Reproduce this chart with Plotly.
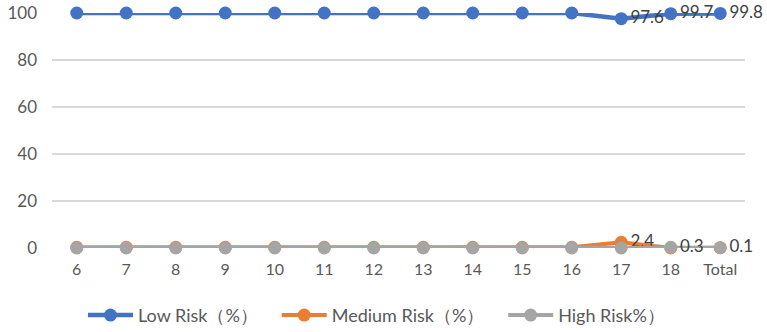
import plotly.graph_objects as go

categories = ["6", "7", "8", "9", "10", "11", "12", "13", "14", "15", "16", "17", "18", "Total"]
low_risk = [100, 100, 100, 100, 100, 100, 100, 100, 100, 100, 100, 97.6, 99.7, 99.8]
medium_risk = [0.3, 0.3, 0.3, 0.3, 0.3, 0.3, 0.3, 0.3, 0.3, 0.3, 0.3, 2.4, 0.0, 0.1]
high_risk = [0, 0, 0, 0, 0, 0, 0, 0, 0, 0, 0, 0, 0.3, 0.1]

series_names = ["Low Risk（%）", "Medium Risk（%）", "High Risk%）"]
low_labels = [""] * 11 + ["97.6", "99.7", "99.8"]
medium_labels = [""] * 11 + ["2.4", "", ""]
high_labels = [""] * 12 + ["0.3", "0.1"]

font_family = "Lato, 'Open Sans', sans-serif"
text_color = "#404040"

fig = go.Figure()
series = [
    (series_names[0], low_risk, low_labels, "#4472C4", 4.5),
    (series_names[1], medium_risk, medium_labels, "#ED7D31", 4),
    (series_names[2], high_risk, high_labels, "#A5A5A5", 4),
]
for name, vals, labels, color, w in series:
    fig.add_trace(go.Scatter(
        x=categories, y=vals, name=name + "\u00a0\u00a0\u00a0",
        mode="lines+markers+text",
        text=labels, textposition="middle right",
        textfont=dict(size=17, color=text_color, family=font_family),
        line=dict(color=color, width=w),
        marker=dict(color=color, size=13),
        cliponaxis=False,
    ))

fig.update_layout(
    width=767, height=332,
    margin=dict(l=52, r=22, t=13, b=84, autoexpand=False),
    paper_bgcolor="white", plot_bgcolor="white",
    font=dict(family=font_family, size=16, color="#595959"),
    showlegend=True,
    legend=dict(orientation="h", x=0.5, xanchor="center", xref="container",
                y=0.05, yanchor="middle", yref="container",
                font=dict(size=18, color="#595959"), itemwidth=45),
    xaxis=dict(type="category", range=[-0.5, 13.5], showgrid=False, showline=False,
               zeroline=False, ticks="", ticklabelstandoff=10,
               tickfont=dict(size=16, color="#595959")),
    yaxis=dict(range=[0, 100], tickvals=[0, 20, 40, 60, 80, 100], showgrid=True,
               gridcolor="#D9D9D9", gridwidth=1.5, zeroline=False, showline=False,
               ticks="", ticklabelstandoff=14, tickfont=dict(size=17, color="#595959")),
)
fig.write_html("out.html")
